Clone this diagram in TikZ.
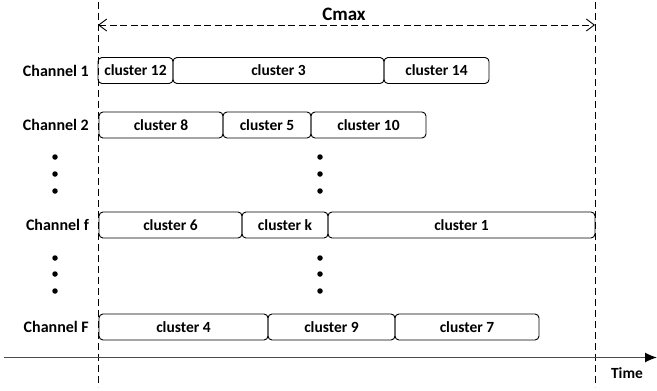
\documentclass[tikz,border=0pt]{standalone}
\usepackage{fontspec}
\setmainfont{Carlito}
\usetikzlibrary{arrows.meta}
\tikzset{
  box/.style={draw=black, line width=0.9pt, rounded corners=4pt, minimum height=26pt, inner sep=0pt, font=\fontsize{15.5}{15.5}\selectfont\bfseries},
  chlabel/.style={anchor=east, inner sep=0pt, font=\fontsize{16}{16}\selectfont\bfseries},
  guide/.style={line width=0.9pt, dash pattern=on 7pt off 4pt},
  dotmark/.style={fill=black, circle, inner sep=0pt, minimum size=5.5pt}
}
\begin{document}
\begin{tikzpicture}[x=1pt,y=-1pt]
\useasboundingbox (0,0) rectangle (657,391);
% guide lines
\coordinate (lt) at (98,2);
\coordinate (lb) at (98,387);
\coordinate (rt) at (595,2);
\coordinate (rb) at (595,387);
\draw[guide] (lt) -- (lb);
\draw[guide] (rt) -- (rb);
\coordinate (ca) at (98,25);
\coordinate (cb) at (595,25);
\draw[guide, dash pattern=on 7pt off 3.5pt, {Straight Barb[length=8pt,width=12pt]}-{Straight Barb[length=8pt,width=12pt]}] (ca) -- (cb);
\node[anchor=base, inner sep=0pt, font=\fontsize{19}{19}\selectfont\bfseries] (cmax) at (344,20) {Cmax};
% channel labels
\node[chlabel] (ch1) at (89,71) {Channel 1};
\node[chlabel] (ch2) at (89,125) {Channel 2};
\node[chlabel] (chf) at (89,225) {Channel f};
\node[chlabel] (chF) at (89,327) {Channel F};
% row 1
\node[box, minimum width=75pt] (c12) at (135.5,70.5) {cluster 12};
\node[box, minimum width=211pt] (c3) at (278.5,70.5) {cluster 3};
\node[box, minimum width=105pt] (c14) at (436.5,70.5) {cluster 14};
% row 2
\node[box, minimum width=124pt] (c8) at (161,125) {cluster 8};
\node[box, minimum width=88pt] (c5) at (267,125) {cluster 5};
\node[box, minimum width=115pt] (c10) at (368.5,125) {cluster 10};
% row f
\node[box, minimum width=143pt] (c6) at (170.5,225) {cluster 6};
\node[box, minimum width=86pt] (ck) at (285,225) {cluster k};
\node[box, minimum width=267pt] (c1) at (461.5,225) {cluster 1};
% row F
\node[box, minimum width=169pt] (c4) at (183.5,327) {cluster 4};
\node[box, minimum width=127pt] (c9) at (331.5,327) {cluster 9};
\node[box, minimum width=144pt] (c7) at (467,327) {cluster 7};
% dots
\foreach \y [count=\i] in {157,174,191,258,274,291}{
  \node[dotmark] (dl\i) at (55,\y) {};
  \node[dotmark] (dm\i) at (320,\y) {};
}
% time axis
\coordinate (t0) at (4,357.5);
\coordinate (t1) at (657,357.5);
\draw[line width=1.2pt, draw=black!70, -{Latex[length=12pt,width=10pt,black]}] (t0) -- (t1);
\node[inner sep=0pt, font=\fontsize{15.5}{15.5}\selectfont\bfseries] (time) at (627,373) {Time};
\end{tikzpicture}
\end{document}
